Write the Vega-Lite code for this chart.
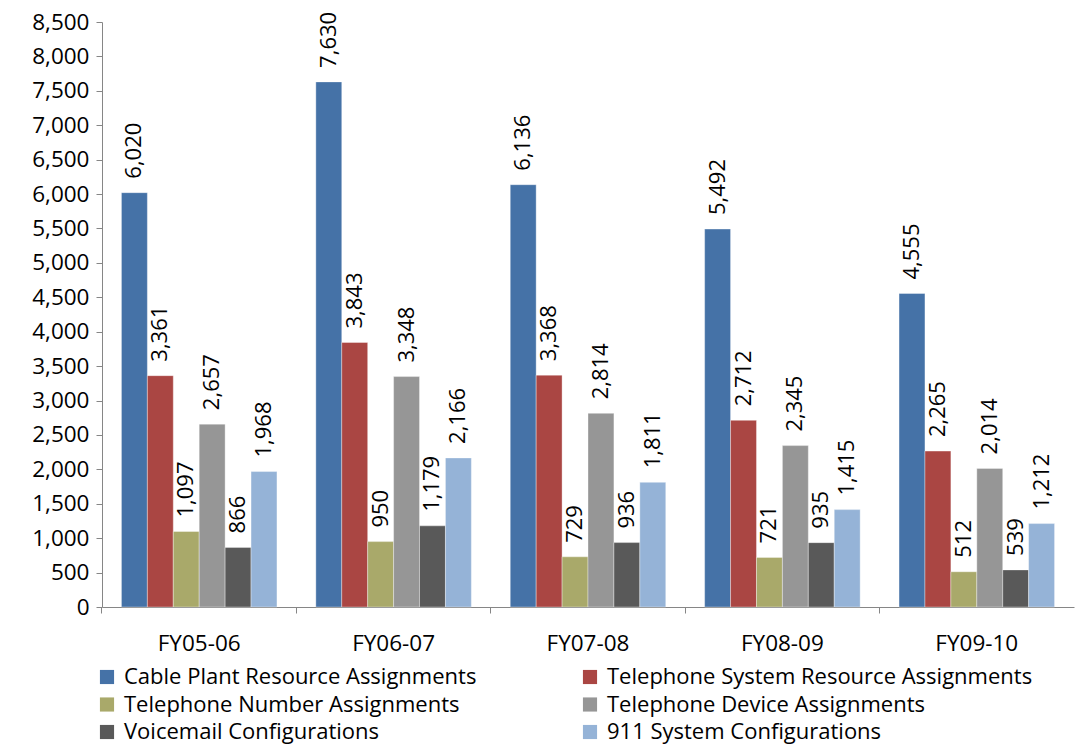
{
  "$schema": "https://vega.github.io/schema/vega-lite/v6.json",
  "width": 972,
  "height": 585,
  "autosize": "none",
  "padding": {"left": 102, "top": 22, "right": 2, "bottom": 142},
  "background": "white",
  "config": {
    "view": {"stroke": null},
    "font": "Open Sans",
    "axis": {"labelFont": "Open Sans", "labelFontSize": 22.5, "labelColor": "#000000", "domainColor": "#868686", "tickColor": "#868686", "grid": false}
  },
  "data": {
    "values": [
      {"year": "FY05-06", "series": "Cable Plant Resource Assignments", "v": 6020},
      {"year": "FY05-06", "series": "Telephone System Resource Assignments", "v": 3361},
      {"year": "FY05-06", "series": "Telephone Number Assignments", "v": 1097},
      {"year": "FY05-06", "series": "Telephone Device Assignments", "v": 2657},
      {"year": "FY05-06", "series": "Voicemail Configurations", "v": 866},
      {"year": "FY05-06", "series": "911 System Configurations", "v": 1968},
      {"year": "FY06-07", "series": "Cable Plant Resource Assignments", "v": 7630},
      {"year": "FY06-07", "series": "Telephone System Resource Assignments", "v": 3843},
      {"year": "FY06-07", "series": "Telephone Number Assignments", "v": 950},
      {"year": "FY06-07", "series": "Telephone Device Assignments", "v": 3348},
      {"year": "FY06-07", "series": "Voicemail Configurations", "v": 1179},
      {"year": "FY06-07", "series": "911 System Configurations", "v": 2166},
      {"year": "FY07-08", "series": "Cable Plant Resource Assignments", "v": 6136},
      {"year": "FY07-08", "series": "Telephone System Resource Assignments", "v": 3368},
      {"year": "FY07-08", "series": "Telephone Number Assignments", "v": 729},
      {"year": "FY07-08", "series": "Telephone Device Assignments", "v": 2814},
      {"year": "FY07-08", "series": "Voicemail Configurations", "v": 936},
      {"year": "FY07-08", "series": "911 System Configurations", "v": 1811},
      {"year": "FY08-09", "series": "Cable Plant Resource Assignments", "v": 5492},
      {"year": "FY08-09", "series": "Telephone System Resource Assignments", "v": 2712},
      {"year": "FY08-09", "series": "Telephone Number Assignments", "v": 721},
      {"year": "FY08-09", "series": "Telephone Device Assignments", "v": 2345},
      {"year": "FY08-09", "series": "Voicemail Configurations", "v": 935},
      {"year": "FY08-09", "series": "911 System Configurations", "v": 1415},
      {"year": "FY09-10", "series": "Cable Plant Resource Assignments", "v": 4555},
      {"year": "FY09-10", "series": "Telephone System Resource Assignments", "v": 2265},
      {"year": "FY09-10", "series": "Telephone Number Assignments", "v": 512},
      {"year": "FY09-10", "series": "Telephone Device Assignments", "v": 2014},
      {"year": "FY09-10", "series": "Voicemail Configurations", "v": 539},
      {"year": "FY09-10", "series": "911 System Configurations", "v": 1212}
    ]
  },
  "encoding": {
    "x": {
      "field": "year", "type": "nominal", "title": null,
      "scale": {"paddingInner": 0.2, "paddingOuter": 0.1},
      "axis": {"labelAngle": 0, "labelPadding": 19, "tickSize": 6, "bandPosition": -0.125}
    },
    "xOffset": {
      "field": "series", "type": "nominal",
      "sort": ["Cable Plant Resource Assignments", "Telephone System Resource Assignments", "Telephone Number Assignments", "Telephone Device Assignments", "Voicemail Configurations", "911 System Configurations"],
      "scale": {"paddingInner": 0, "paddingOuter": 0}
    },
    "y": {
      "field": "v", "type": "quantitative", "title": null,
      "scale": {"domain": [0, 8500]},
      "axis": {"values": [0, 500, 1000, 1500, 2000, 2500, 3000, 3500, 4000, 4500, 5000, 5500, 6000, 6500, 7000, 7500, 8000, 8500], "format": ",.0f", "tickSize": 6, "labelPadding": 7}
    }
  },
  "layer": [
    {
      "mark": {"type": "bar", "stroke": "#ffffff", "strokeWidth": 0.6, "strokeOpacity": 0.6},
      "encoding": {
        "color": {
          "field": "series", "type": "nominal",
          "sort": ["Cable Plant Resource Assignments", "Telephone System Resource Assignments", "Telephone Number Assignments", "Telephone Device Assignments", "Voicemail Configurations", "911 System Configurations"],
          "scale": {
            "domain": ["Cable Plant Resource Assignments", "Telephone System Resource Assignments", "Telephone Number Assignments", "Telephone Device Assignments", "Voicemail Configurations", "911 System Configurations"],
            "range": ["#4572A7", "#AA4643", "#A9A96A", "#969696", "#595959", "#95B3D7"]
          },
          "legend": {
            "title": null, "orient": "none", "legendX": -6, "legendY": 644,
            "direction": "horizontal", "columns": 2, "columnPadding": 102, "rowPadding": 5.5,
            "symbolType": "square", "symbolSize": 200, "symbolStrokeWidth": 0,
            "labelFont": "Open Sans", "labelFontSize": 22, "labelColor": "#000000", "labelLimit": 600, "labelOffset": 6
          }
        }
      }
    },
    {
      "mark": {"type": "text", "angle": 270, "align": "left", "baseline": "middle", "dx": 14, "fontSize": 22, "font": "Open Sans", "color": "#000000"},
      "encoding": {
        "text": {"field": "v", "type": "quantitative", "format": ","}
      }
    }
  ]
}
